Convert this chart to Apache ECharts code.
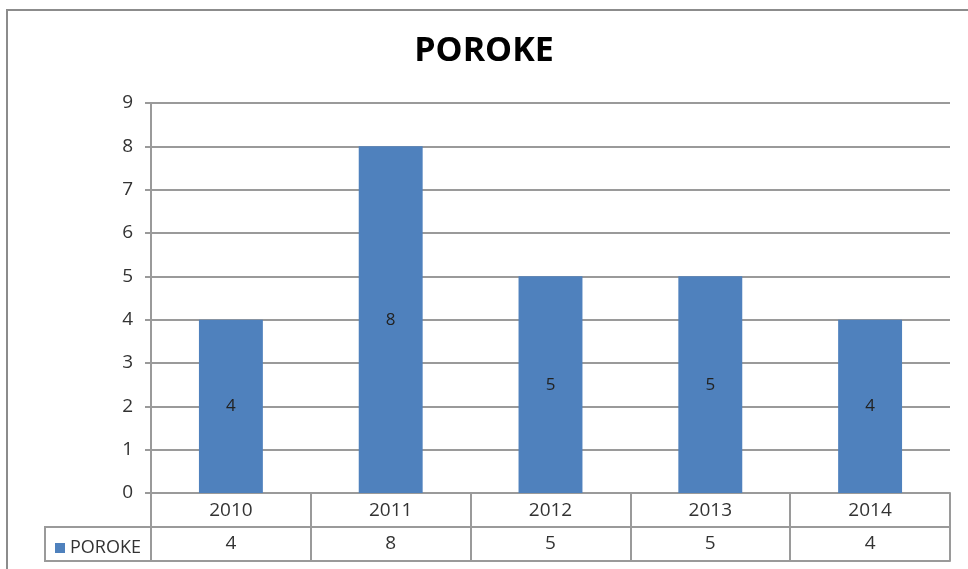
<!DOCTYPE html>
<html>
<head>
<meta charset="utf-8">
<script src="https://cdn.jsdelivr.net/npm/echarts@6/dist/echarts.min.js"></script>
<style>
html,body{margin:0;padding:0;background:#fff;}
#main{width:968px;height:569px;}
</style>
</head>
<body>
<div id="main"></div>
<script>
const titleText = 'POROKE';
const seriesName = 'POROKE';
const categories = ['2010', '2011', '2012', '2013', '2014'];
const values = [4, 8, 5, 5, 4];
const yTicks = { min: 0, max: 9, interval: 1 };

const FONT = '"Open Sans", "Liberation Sans", sans-serif';
const GRID = '#9a9a9a';
const TEXT = '#333333';

const chart = echarts.init(document.getElementById('main'), null, { renderer: 'canvas' });
chart.setOption({
  animation: false,
  backgroundColor: '#fff',
  title: {
    text: titleText, left: 'center', top: 29,
    textStyle: { fontFamily: FONT, fontSize: 34, fontWeight: 'bold', color: '#000' }
  },
  legend: {
    left: 50, top: 534, icon: 'rect', itemWidth: 10, itemHeight: 10, itemGap: 5,
    data: [seriesName],
    textStyle: { fontFamily: FONT, fontSize: 18, color: TEXT }
  },
  grid: { left: 151, right: 18, top: 103, bottom: 76, containLabel: false },
  xAxis: [
    {
      type: 'category', data: categories, position: 'bottom',
      axisLine: { show: true, lineStyle: { color: GRID, width: 2 } },
      axisTick: { show: true, alignWithLabel: false, length: 68, lineStyle: { color: GRID, width: 2 } },
      axisLabel: { margin: 8, fontFamily: FONT, fontSize: 19, color: TEXT },
      splitLine: { show: false }
    },
    {
      type: 'category', data: values.map(String), position: 'bottom', offset: 34,
      axisLine: { show: true, onZero: false, lineStyle: { color: GRID, width: 2 } },
      axisTick: { show: false },
      axisLabel: { margin: 7, fontFamily: FONT, fontSize: 19, color: TEXT },
      splitLine: { show: false }
    },
    {
      type: 'category', data: categories, position: 'bottom', offset: 68,
      axisLine: { show: true, onZero: false, lineStyle: { color: GRID, width: 2 } },
      axisTick: { show: false },
      axisLabel: { show: false },
      splitLine: { show: false }
    }
  ],
  yAxis: {
    type: 'value', min: yTicks.min, max: yTicks.max, interval: yTicks.interval,
    axisLine: { show: true, lineStyle: { color: GRID, width: 2 } },
    axisTick: { show: true, inside: false, length: 6, lineStyle: { color: GRID, width: 2 } },
    axisLabel: { margin: 18, fontFamily: FONT, fontSize: 19, color: TEXT },
    splitLine: { show: true, lineStyle: { color: GRID, width: 2 } }
  },
  graphic: [
    {
      type: 'rect', shape: { x: 7, y: 10, width: 980, height: 580 },
      style: { fill: 'none', stroke: '#8c8c8c', lineWidth: 2 }, silent: true
    },
    {
      type: 'rect', shape: { x: 45, y: 527, width: 106, height: 34 },
      style: { fill: 'none', stroke: GRID, lineWidth: 2 }, silent: true
    }
  ],
  series: [{
    name: seriesName, type: 'bar', data: values, xAxisIndex: 0,
    barWidth: '40%',
    itemStyle: { color: '#4F81BD' },
    label: { show: true, position: 'inside', fontFamily: FONT, fontSize: 17, color: '#222' }
  }]
});
</script>
</body>
</html>
